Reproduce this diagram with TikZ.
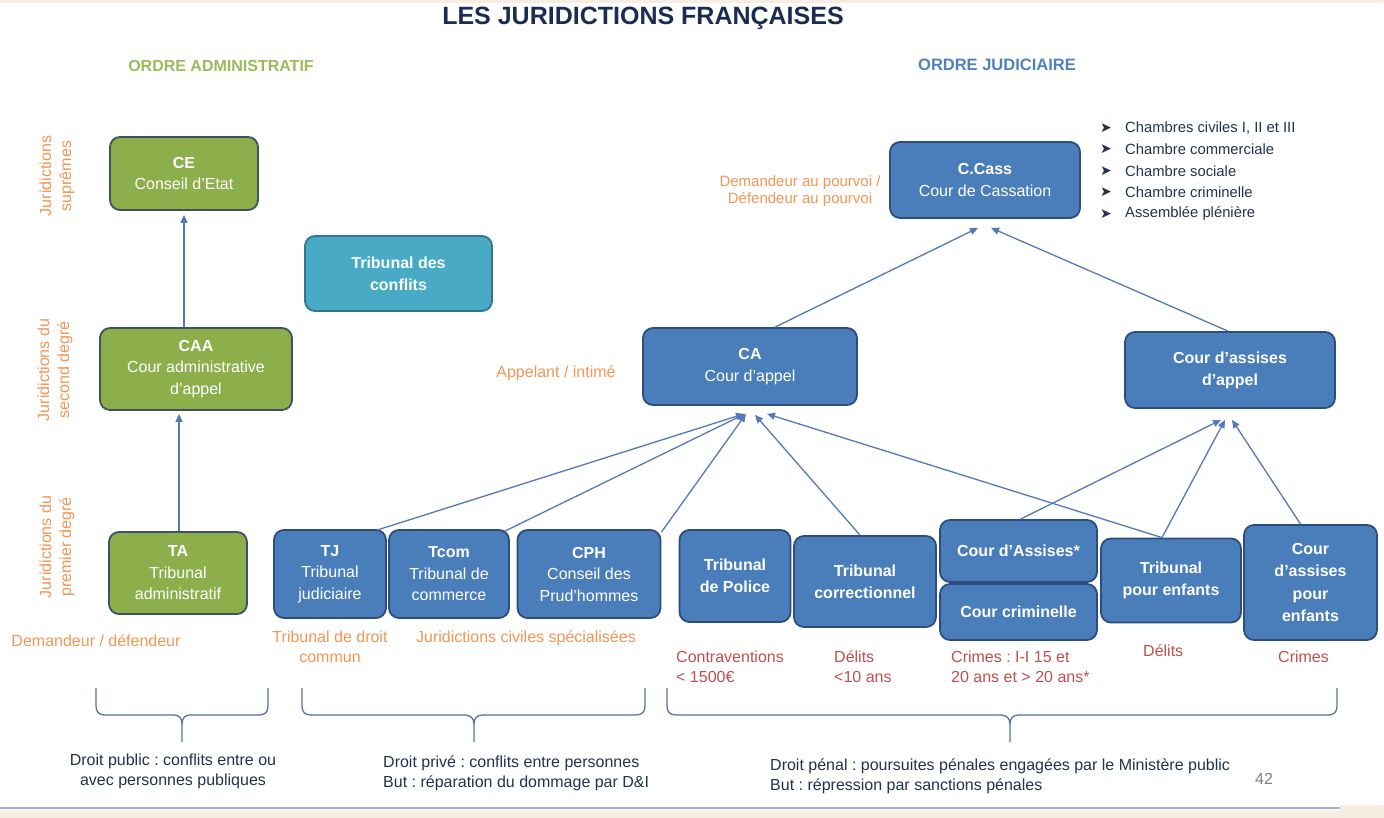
\documentclass[tikz,border=0pt]{standalone}
\usepackage{fontspec}
\setmainfont{Liberation Sans}
\newfontfamily\dejavu{DejaVu Sans}
\usetikzlibrary{arrows.meta,calc}
\frenchspacing
\definecolor{bfill}{RGB}{74,126,187}
\definecolor{bborder}{RGB}{44,77,125}
\definecolor{gfill}{RGB}{140,175,76}
\definecolor{gborder}{RGB}{62,82,95}
\definecolor{tfill}{RGB}{72,170,197}
\definecolor{tborder}{RGB}{50,118,140}
\definecolor{lcol}{RGB}{84,122,182}
\definecolor{ocol}{RGB}{242,150,85}
\definecolor{rcol}{RGB}{192,80,77}
\definecolor{dkcol}{RGB}{35,50,78}
\definecolor{titcol}{RGB}{25,45,82}
\definecolor{admcol}{RGB}{155,187,89}
\definecolor{judcol}{RGB}{79,129,189}
\definecolor{brcol}{RGB}{86,114,160}
\definecolor{beige}{RGB}{246,238,226}
\definecolor{blin}{RGB}{160,178,202}
\begin{document}
\begin{tikzpicture}[x=1pt,y=-1pt,
  box/.style={rounded corners=10pt, line width=1.8pt, text=white, align=center, inner sep=2pt, font=\fontsize{16}{21.5}\selectfont},
  bbox/.style={box, fill=bfill, draw=bborder},
  gbox/.style={box, fill=gfill, draw=gborder},
  tbox/.style={box, fill=tfill, draw=tborder},
  conn/.style={draw=lcol, line width=1.3pt, -{Triangle[length=8pt,width=7pt]}},
  orgtxt/.style={text=ocol, font=\fontsize{16}{20}\selectfont, align=center, inner sep=0pt},
  redtxt/.style={text=rcol, font=\fontsize{16}{20}\selectfont, align=left, inner sep=0pt, anchor=west},
  bottxt/.style={text=dkcol, font=\fontsize{16}{20}\selectfont, inner sep=0pt},
  listtxt/.style={text=dkcol, font=\fontsize{14.8}{16}\selectfont, inner sep=0pt, anchor=west},
  brace/.style={draw=brcol, line width=1.3pt}
]
\fill[white] (0,0) rectangle (1384,818);
\useasboundingbox (0,0) rectangle (1384,818);
\fill[beige] (0,0) rectangle (1384,3);
\fill[beige] (0,810) rectangle (1384,818);
\fill[beige] (1340,805) rectangle (1384,818);
\draw[blin, line width=2pt] (0,808) -- (1340,808);

% titles
\node[text=titcol, font=\fontsize{25}{28}\bfseries, inner sep=0pt] (title) at (643,18) {LES JURIDICTIONS FRANÇAISES};
\node[text=admcol, font=\fontsize{16}{18}\bfseries, inner sep=0pt] (oadm) at (221,66) {ORDRE ADMINISTRATIF};
\node[text=judcol, font=\fontsize{16.5}{18}\bfseries, inner sep=0pt] (ojud) at (997,65) {ORDRE JUDICIAIRE};

% rotated level labels
\node[orgtxt, rotate=90] (l1) at (57,176) {Juridictions\\suprêmes};
\node[orgtxt, rotate=90] (l2) at (55,370) {Juridictions du\\second degré};
\node[orgtxt, rotate=90] (l3) at (57,547) {Juridictions du\\premier degré};

% administrative boxes
\node[gbox, minimum width=148pt, minimum height=73pt] (ce) at (184,173.5) {\textbf{CE}\\Conseil d’Etat};
\node[gbox, minimum width=192pt, minimum height=82pt] (caa) at (196,369) {\textbf{CAA}\\Cour administrative\\d’appel};
\node[gbox, minimum width=138pt, minimum height=82pt] (ta) at (178,573) {\textbf{TA}\\Tribunal\\administratif};
\node[tbox, minimum width=187pt, minimum height=75pt, font=\fontsize{16}{22}\bfseries] (tc) at (398.5,273.5) {Tribunal des\\conflits};

% judicial boxes
\node[bbox, minimum width=190pt, minimum height=76pt] (ccass) at (985,180) {\textbf{C.Cass}\\Cour de Cassation};
\node[bbox, minimum width=214pt, minimum height=77pt] (ca) at (750,366.5) {\textbf{CA}\\Cour d’appel};
\node[bbox, minimum width=210pt, minimum height=76pt, font=\fontsize{16}{22}\bfseries] (caap) at (1230,370) {Cour d’assises\\d’appel};
\node[bbox, minimum width=112pt, minimum height=88pt] (tj) at (330,574) {\textbf{TJ}\\Tribunal\\judiciaire};
\node[bbox, minimum width=120pt, minimum height=88pt] (tcom) at (449,574) {\textbf{Tcom}\\Tribunal de\\commerce};
\node[bbox, minimum width=143pt, minimum height=88pt] (cph) at (589,574) {\textbf{CPH}\\Conseil des\\Prud’hommes};
\node[bbox, minimum width=111pt, minimum height=92pt, font=\fontsize{16}{22}\bfseries] (tpol) at (735,576) {Tribunal\\de Police};
\node[bbox, minimum width=142pt, minimum height=91pt, font=\fontsize{16}{22}\bfseries] (tcor) at (865,581.5) {Tribunal\\correctionnel};
\node[bbox, minimum width=157pt, minimum height=62pt, font=\fontsize{16}{22}\bfseries] (cass) at (1018.5,551) {Cour d’Assises*};
\node[bbox, minimum width=157pt, minimum height=56pt, font=\fontsize{16}{22}\bfseries] (ccrim) at (1018.5,612) {Cour criminelle};
\node[bbox, minimum width=140pt, minimum height=84pt, font=\fontsize{16}{21.5}\bfseries] (tpe) at (1171,580.5) {Tribunal\\pour enfants};
\node[bbox, minimum width=133pt, minimum height=115pt, font=\fontsize{16}{22.5}\bfseries] (capenf) at (1310.5,582.5) {Cour\\d’assises\\pour\\enfants};

% connectors
\draw[conn] ($(ta.north)+(1,0)$) -- ($(caa.south)+(-17,3)$);
\draw[conn] ($(caa.north)+(-12,0)$) -- ($(ce.south)+(0,4)$);
\draw[conn] ($(tj.north east)+(-10,1)$) -- ($(ca.south)+(-6,8)$);
\draw[conn] ($(tcom.north east)+(-5,2)$) -- ($(ca.south)+(-5,8)$);
\draw[conn] ($(cph.north east)+(0,3)$) -- ($(ca.south)+(-4,8)$);
\draw[conn] ($(tcor.north)+(-5,0)$) -- ($(ca.south)+(5,9)$);
\draw[conn] ($(tpe.north)+(-9,0)$) -- ($(ca.south)+(17,8)$);
\draw[conn] ($(cass.north)+(2,0)$) -- ($(caap.south)+(-9,11)$);
\draw[conn] ($(tpe.north)+(-9,0)$) -- ($(caap.south)+(-5,11)$);
\draw[conn] ($(capenf.north)+(-10,0)$) -- ($(caap.south)+(2,11)$);
\draw[conn] ($(ca.north)+(25,0)$) -- ($(ccass.south)+(-7,9)$);
\draw[conn] ($(caap.north)+(-2,0)$) -- ($(ccass.south)+(6,9)$);

% orange labels
\node[orgtxt] (dd) at (96,641) {Demandeur / défendeur};
\node[orgtxt] (tdc) at (330,647) {Tribunal de droit\\commun};
\node[orgtxt] (jcs) at (526,638) {Juridictions civiles spécialisées};
\node[orgtxt, font=\fontsize{15}{17}\selectfont] (dap) at (800,191) {Demandeur au pourvoi /\\Défendeur au pourvoi};
\node[orgtxt] (ai) at (556,373) {Appelant / intimé};

% list of chambers
\foreach \t [count=\i] in {{Chambres civiles I, II et III},{Chambre commerciale},{Chambre sociale},{Chambre criminelle},{Assemblée plénière}}{
  \node[text=dkcol, font=\dejavu\fontsize{14}{16}\selectfont, inner sep=0pt] (b\i) at (1106,{128+21.5*(\i-1)}) {➤};
  \node[listtxt] (li\i) at (1125,{128+21.5*(\i-1)}) {\t};
}

% red labels
\node[redtxt] (r1) at (676,667) {Contraventions\\< 1500€};
\node[redtxt] (r2) at (834,667) {Délits\\<10 ans};
\node[redtxt] (r3) at (951,667) {Crimes : I-I 15 et\\20 ans et > 20 ans*};
\node[redtxt] (r4) at (1143,651) {Délits};
\node[redtxt] (r5) at (1278,657) {Crimes};

% braces
\draw[brace] (96,688) -- (96,706) .. controls (96,712) and (99,715) .. (105,715) -- (174,715) .. controls (179,715) and (182,718) .. (182,724) -- (182,742);
\draw[brace] (182,724) .. controls (182,718) and (185,715) .. (190,715) -- (259,715) .. controls (265,715) and (268,712) .. (268,706) -- (268,688);
\draw[brace] (302,688) -- (302,706) .. controls (302,712) and (305,715) .. (311,715) -- (465,715) .. controls (470,715) and (474,718) .. (474,724) -- (474,742);
\draw[brace] (474,724) .. controls (474,718) and (477,715) .. (483,715) -- (636,715) .. controls (642,715) and (645,712) .. (645,706) -- (645,688);
\draw[brace] (667,688) -- (667,706) .. controls (667,712) and (670,715) .. (676,715) -- (1001,715) .. controls (1006,715) and (1010,718) .. (1010,724) -- (1010,742);
\draw[brace] (1010,724) .. controls (1010,718) and (1013,715) .. (1019,715) -- (1328,715) .. controls (1334,715) and (1337,712) .. (1337,706) -- (1337,688);

% bottom texts
\node[bottxt, align=center] (bt1) at (173,771) {Droit public : conflits entre ou\\avec personnes publiques};
\node[bottxt, align=left, anchor=west] (bt2) at (383,773.5) {Droit privé : conflits entre personnes\\But : réparation du dommage par D\&I};
\node[bottxt, align=left, anchor=west] (bt3) at (770,776.5) {Droit pénal : poursuites pénales engagées par le Ministère public\\But : répression par sanctions pénales};
\node[text=gray, font=\fontsize{16}{18}\selectfont, inner sep=0pt] (pg) at (1264,779) {42};
\end{tikzpicture}
\end{document}
